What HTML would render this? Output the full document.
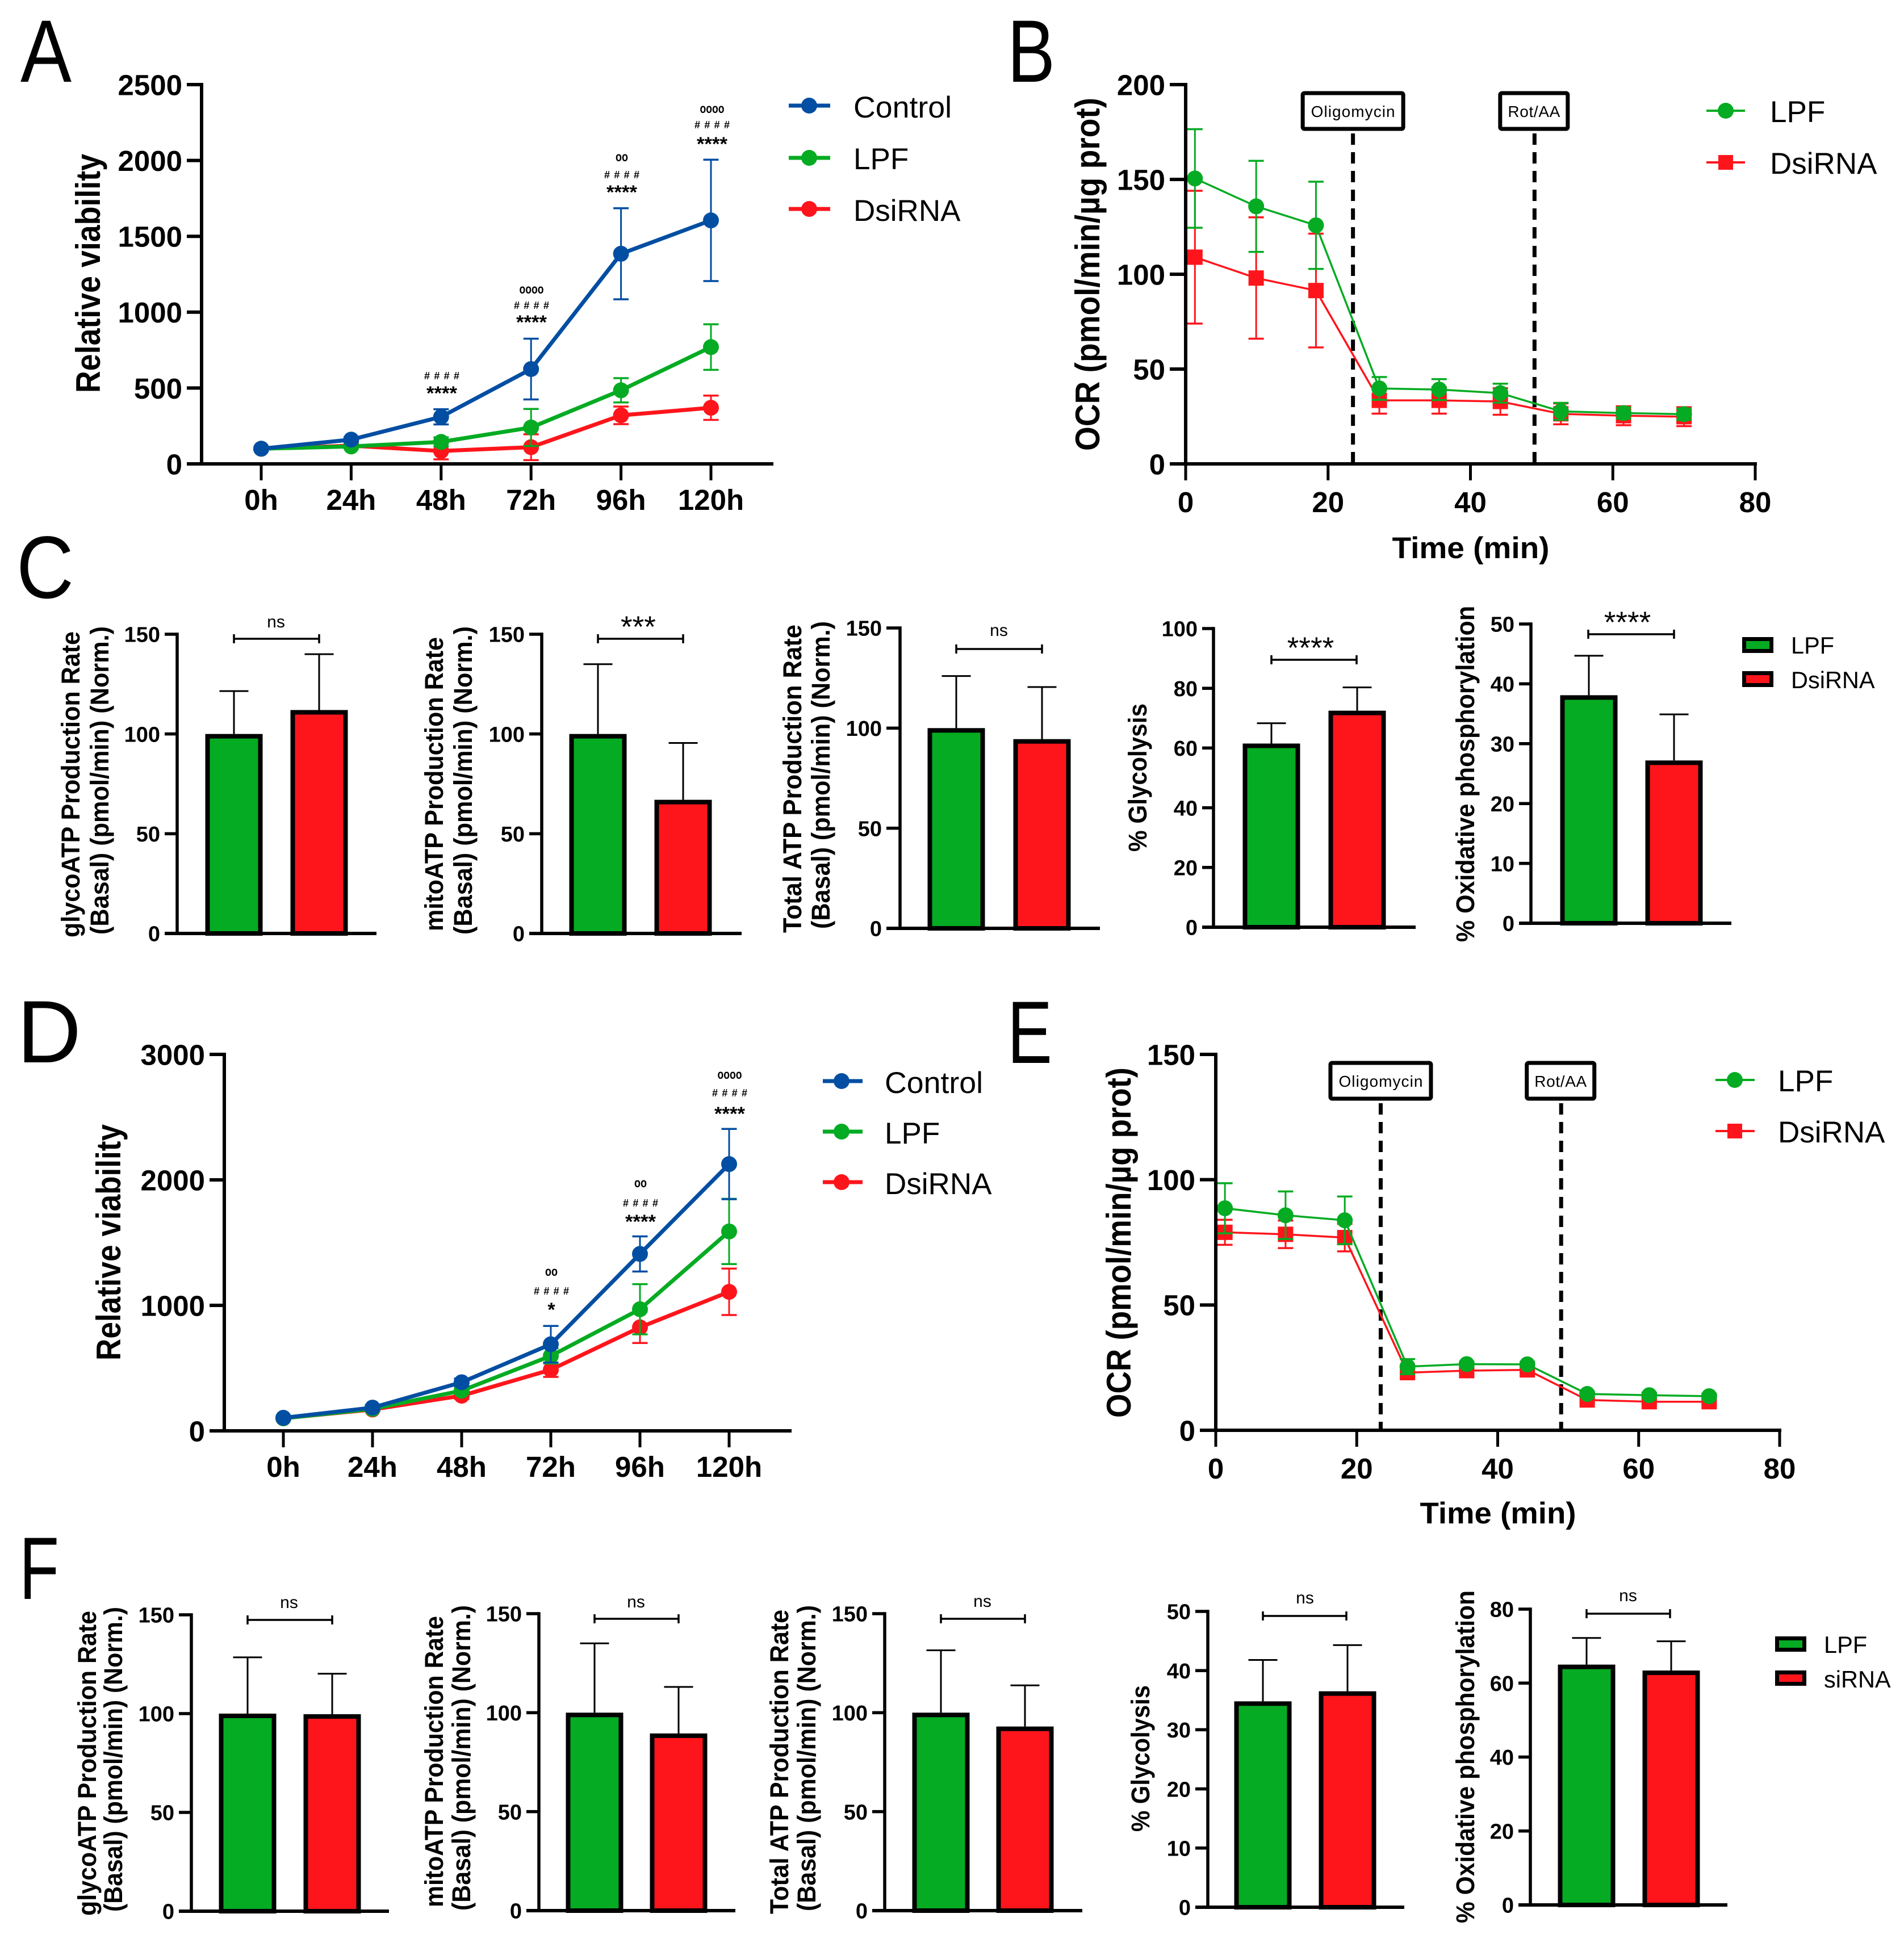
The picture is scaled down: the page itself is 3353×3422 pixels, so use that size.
<!DOCTYPE html>
<html lang="en">
<head>
<meta charset="utf-8">
<title>Viability, OCR and ATP production panels</title>
<style>
html,body{margin:0;padding:0;background:#fff;}
svg{display:block;font-family:"Liberation Sans",Arial,sans-serif;}
text{fill:#000;}
.b{font-weight:bold;}
.lg{font-size:53px;}
.lg2{font-size:41.5px;}
.ylab{font-weight:bold;font-size:60px;}
.ylab2{font-weight:bold;font-size:45px;}
.xt{font-weight:bold;font-size:53px;text-anchor:middle;}
.letter{font-size:156px;}
.o{font-weight:bold;font-size:23px;text-anchor:middle;}
.h{font-size:18px;font-weight:bold;text-anchor:middle;}
.s{font-weight:bold;font-size:34px;text-anchor:middle;}
</style>
</head>
<body>
<svg id="figure" xmlns="http://www.w3.org/2000/svg" width="3353" height="3422" viewBox="0 0 3353 3422">
<rect width="3353" height="3422" fill="#fff"/>

<!-- panel letters -->
<text class="letter" x="36" y="144" textLength="90" lengthAdjust="spacingAndGlyphs">A</text>
<text class="letter" x="1774" y="144" textLength="84" lengthAdjust="spacingAndGlyphs">B</text>
<text class="letter" x="29" y="1053" textLength="101" lengthAdjust="spacingAndGlyphs">C</text>
<text class="letter" x="30" y="1871" textLength="113" lengthAdjust="spacingAndGlyphs">D</text>
<text class="letter" x="1774" y="1872" textLength="79" lengthAdjust="spacingAndGlyphs">E</text>
<text class="letter" x="34" y="2816" textLength="70" lengthAdjust="spacingAndGlyphs">F</text>

<!-- axis titles -->
<text class="ylab" transform="translate(176,692) rotate(-90)" textLength="421" lengthAdjust="spacingAndGlyphs">Relative viability</text>
<text class="ylab" transform="translate(1936,794) rotate(-90)" textLength="622" lengthAdjust="spacingAndGlyphs">OCR (pmol/min/µg prot)</text>
<text class="xt" x="2590" y="983" textLength="277" lengthAdjust="spacingAndGlyphs">Time (min)</text>
<text class="ylab" transform="translate(212,2396) rotate(-90)" textLength="416" lengthAdjust="spacingAndGlyphs">Relative viability</text>
<text class="ylab" transform="translate(1991,2497) rotate(-90)" textLength="617" lengthAdjust="spacingAndGlyphs">OCR (pmol/min/µg prot)</text>
<text class="xt" x="2638" y="2683" textLength="275" lengthAdjust="spacingAndGlyphs">Time (min)</text>

<text class="ylab2" transform="translate(140,1651) rotate(-90)" textLength="539" lengthAdjust="spacingAndGlyphs">glycoATP Production Rate</text>
<text class="ylab2" transform="translate(191,1646) rotate(-90)" textLength="543" lengthAdjust="spacingAndGlyphs">(Basal) (pmol/min) (Norm.)</text>
<text class="ylab2" transform="translate(780,1640) rotate(-90)" textLength="518" lengthAdjust="spacingAndGlyphs">mitoATP Production Rate</text>
<text class="ylab2" transform="translate(831,1646) rotate(-90)" textLength="543" lengthAdjust="spacingAndGlyphs">(Basal) (pmol/min) (Norm.)</text>
<text class="ylab2" transform="translate(1411,1643) rotate(-90)" textLength="543" lengthAdjust="spacingAndGlyphs">Total ATP Production Rate</text>
<text class="ylab2" transform="translate(1461,1636) rotate(-90)" textLength="542" lengthAdjust="spacingAndGlyphs">(Basal) (pmol/min) (Norm.)</text>
<text class="ylab2" transform="translate(2019,1500) rotate(-90)" textLength="261" lengthAdjust="spacingAndGlyphs">% Glycolysis</text>
<text class="ylab2" transform="translate(2596,1659) rotate(-90)" textLength="592" lengthAdjust="spacingAndGlyphs">% Oxidative phosphorylation</text>

<text class="ylab2" transform="translate(169,3374) rotate(-90)" textLength="537" lengthAdjust="spacingAndGlyphs">glycoATP Production Rate</text>
<text class="ylab2" transform="translate(215,3367) rotate(-90)" textLength="537" lengthAdjust="spacingAndGlyphs">(Basal) (pmol/min) (Norm.)</text>
<text class="ylab2" transform="translate(780,3359) rotate(-90)" textLength="513" lengthAdjust="spacingAndGlyphs">mitoATP Production Rate</text>
<text class="ylab2" transform="translate(828,3365) rotate(-90)" textLength="538" lengthAdjust="spacingAndGlyphs">(Basal) (pmol/min) (Norm.)</text>
<text class="ylab2" transform="translate(1388,3371) rotate(-90)" textLength="536" lengthAdjust="spacingAndGlyphs">Total ATP Production Rate</text>
<text class="ylab2" transform="translate(1436,3366) rotate(-90)" textLength="539" lengthAdjust="spacingAndGlyphs">(Basal) (pmol/min) (Norm.)</text>
<text class="ylab2" transform="translate(2024,3226) rotate(-90)" textLength="258" lengthAdjust="spacingAndGlyphs">% Glycolysis</text>
<text class="ylab2" transform="translate(2596,3387) rotate(-90)" textLength="586" lengthAdjust="spacingAndGlyphs">% Oxidative phosphorylation</text>

<!-- significance marks panel A -->
<g>
<text class="h" x="778" y="668" textLength="62">####</text>
<text class="s" x="778" y="704" textLength="54" lengthAdjust="spacingAndGlyphs">****</text>
<text class="o" x="936" y="517" textLength="43" lengthAdjust="spacingAndGlyphs">oooo</text>
<text class="h" x="936" y="544" textLength="62">####</text>
<text class="s" x="936" y="579" textLength="54" lengthAdjust="spacingAndGlyphs">****</text>
<text class="o" x="1095" y="284" textLength="22" lengthAdjust="spacingAndGlyphs">oo</text>
<text class="h" x="1095" y="314" textLength="62">####</text>
<text class="s" x="1095" y="350" textLength="54" lengthAdjust="spacingAndGlyphs">****</text>
<text class="o" x="1254" y="199" textLength="43" lengthAdjust="spacingAndGlyphs">oooo</text>
<text class="h" x="1254" y="226" textLength="62">####</text>
<text class="s" x="1254" y="265" textLength="54" lengthAdjust="spacingAndGlyphs">****</text>
</g>
<!-- significance marks panel D -->
<g>
<text class="o" x="971" y="2247" textLength="22" lengthAdjust="spacingAndGlyphs">oo</text>
<text class="h" x="971" y="2280" textLength="62">####</text>
<text class="s" x="971" y="2318">*</text>
<text class="o" x="1128" y="2091" textLength="22" lengthAdjust="spacingAndGlyphs">oo</text>
<text class="h" x="1128" y="2125" textLength="62">####</text>
<text class="s" x="1128" y="2163" textLength="54" lengthAdjust="spacingAndGlyphs">****</text>
<text class="o" x="1285" y="1900" textLength="43" lengthAdjust="spacingAndGlyphs">oooo</text>
<text class="h" x="1285" y="1931" textLength="62">####</text>
<text class="s" x="1285" y="1973" textLength="54" lengthAdjust="spacingAndGlyphs">****</text>
</g>

<!-- legends -->
<g>
<g><line x1="1389" x2="1462" y1="186" y2="186" stroke="#024ea2" stroke-width="7"/><circle cx="1425" cy="186" r="14" fill="#024ea2"/><text class="lg" x="1503" y="207" textLength="173" lengthAdjust="spacingAndGlyphs">Control</text></g>
<g><line x1="1389" x2="1462" y1="278" y2="278" stroke="#05ab22" stroke-width="7"/><circle cx="1425" cy="278" r="14" fill="#05ab22"/><text class="lg" x="1503" y="298">LPF</text></g>
<g><line x1="1389" x2="1462" y1="368" y2="368" stroke="#fe151c" stroke-width="7"/><circle cx="1425" cy="368" r="14" fill="#fe151c"/><text class="lg" x="1503" y="389">DsiRNA</text></g>
</g>
<g>
<g><line x1="3005" x2="3073" y1="195" y2="195" stroke="#05ab22" stroke-width="4"/><circle cx="3039" cy="195" r="14" fill="#05ab22"/><text class="lg" x="3117" y="215">LPF</text></g>
<g><line x1="3005" x2="3073" y1="286" y2="286" stroke="#fe151c" stroke-width="4"/><rect x="3026" y="273" width="26" height="26" fill="#fe151c"/><text class="lg" x="3117" y="306">DsiRNA</text></g>
</g>
<g>
<g><rect x="3068" y="1122" width="55" height="28" fill="#000"/><rect x="3075" y="1129" width="41" height="14" fill="#05ab22"/><text class="lg2" x="3154" y="1151">LPF</text></g>
<g><rect x="3068" y="1182" width="55" height="28" fill="#000"/><rect x="3075" y="1189" width="41" height="14" fill="#fe151c"/><text class="lg2" x="3154" y="1212">DsiRNA</text></g>
</g>
<g>
<g><line x1="1449" x2="1519" y1="1904" y2="1904" stroke="#024ea2" stroke-width="7"/><circle cx="1482" cy="1904" r="14" fill="#024ea2"/><text class="lg" x="1558" y="1925" textLength="173" lengthAdjust="spacingAndGlyphs">Control</text></g>
<g><line x1="1449" x2="1519" y1="1993" y2="1993" stroke="#05ab22" stroke-width="7"/><circle cx="1482" cy="1993" r="14" fill="#05ab22"/><text class="lg" x="1558" y="2014">LPF</text></g>
<g><line x1="1449" x2="1519" y1="2082" y2="2082" stroke="#fe151c" stroke-width="7"/><circle cx="1482" cy="2082" r="14" fill="#fe151c"/><text class="lg" x="1558" y="2103">DsiRNA</text></g>
</g>
<g>
<g><line x1="3021" x2="3090" y1="1902" y2="1902" stroke="#05ab22" stroke-width="4"/><circle cx="3055" cy="1902" r="14" fill="#05ab22"/><text class="lg" x="3131" y="1922">LPF</text></g>
<g><line x1="3021" x2="3090" y1="1992" y2="1992" stroke="#fe151c" stroke-width="4"/><rect x="3042" y="1979" width="26" height="26" fill="#fe151c"/><text class="lg" x="3131" y="2012">DsiRNA</text></g>
</g>
<g>
<g><rect x="3126" y="2882" width="55" height="27" fill="#000"/><rect x="3133" y="2889" width="41" height="13" fill="#05ab22"/><text class="lg2" x="3212" y="2911">LPF</text></g>
<g><rect x="3126" y="2942" width="55" height="27" fill="#000"/><rect x="3133" y="2949" width="41" height="13" fill="#fe151c"/><text class="lg2" x="3212" y="2972">siRNA</text></g>
</g>

<g id="marks"></g>
</svg>

<script>
// ---------- Data ----------
const BLUE = '#024ea2';
const GREEN = '#05ab22';
const RED = '#fe151c';

const timeCategories = ['0h', '24h', '48h', '72h', '96h', '120h'];

const aTicks = [0, 500, 1000, 1500, 2000, 2500];
const aControl = [100, 160, 310, 625, 1385, 1605];
const aControlErr = [10, 15, 50, 200, 300, 400];
const aLpf = [100, 115, 145, 240, 485, 770];
const aLpfErr = [8, 12, 30, 122, 80, 150];
const aDsi = [100, 120, 85, 110, 320, 370];
const aDsiErr = [8, 12, 55, 85, 58, 80];

const dTicks = [0, 1000, 2000, 3000];
const dControl = [104, 185, 387, 690, 1410, 2126];
const dControlErr = [10, 20, 30, 146, 140, 280];
const dLpf = [100, 175, 320, 597, 969, 1589];
const dLpfErr = [10, 15, 25, 60, 200, 260];
const dDsi = [100, 170, 280, 487, 825, 1108];
const dDsiErr = [10, 15, 25, 57, 125, 185];

const ocrTimes = [1.3, 9.9, 18.3, 27.2, 35.6, 44.2, 52.7, 61.5, 70];
const ocrXTicks = [0, 20, 40, 60, 80];

const bTicks = [0, 50, 100, 150, 200];
const bLpf = [150.5, 135.8, 125.8, 39.8, 39.2, 37.3, 27.7, 26.8, 26.2];
const bLpfErr = [26, 24, 23, 6, 5.5, 5, 4.5, 3, 3];
const bDsi = [109, 98, 91.4, 33.5, 33.5, 32.9, 26.4, 25.4, 24.9];
const bDsiErr = [35, 32, 30, 7, 7, 7, 5.5, 5, 5];
const bInjections = [23.5, 49];

const eTicks = [0, 50, 100, 150];
const eLpf = [88.6, 85.8, 83.8, 25.4, 26.4, 26.3, 14.5, 14, 13.6];
const eLpfErr = [10, 9.5, 9.5, 3, 1, 1, 1, 1, 1];
const eDsi = [79, 78.2, 76.9, 23, 23.8, 24.1, 12.1, 11.4, 11.4];
const eDsiErr = [5, 5.5, 5.5, 1.5, 1, 1, 1, 1, 1];
const eInjections = [23.4, 49];

const injectionNames = ['Oligomycin', 'Rot/AA'];

const ticks150 = [0, 50, 100, 150];
const ticks100 = [0, 20, 40, 60, 80, 100];
const ticks50 = [0, 10, 20, 30, 40, 50];
const ticks80 = [0, 20, 40, 60, 80];

const c1Values = [100, 112];
const c1Errors = [21.5, 28];
const c2Values = [100, 67];
const c2Errors = [35, 28.5];
const c3Values = [100, 94.5];
const c3Errors = [26, 26];
const c4Values = [61.5, 72.5];
const c4Errors = [6.8, 7.8];
const c5Values = [38.1, 27.2];
const c5Errors = [6.6, 7.7];

const f1Values = [100, 99.7];
const f1Errors = [28.5, 20.5];
const f2Values = [100, 89.5];
const f2Errors = [35, 23.5];
const f3Values = [100, 93];
const f3Errors = [31.5, 20.8];
const f4Values = [34.8, 36.5];
const f4Errors = [7, 7.8];
const f5Values = [65, 63.4];
const f5Errors = [7.2, 7.9];

// ---------- Helpers ----------
const NS = 'http://www.w3.org/2000/svg';
const root = document.getElementById('marks');
function node(parent, tag, attrs, text) {
  const n = document.createElementNS(NS, tag);
  for (const k in attrs) n.setAttribute(k, attrs[k]);
  if (text !== undefined) n.textContent = text;
  parent.appendChild(n);
  return n;
}
function scaleY(l, v) { return l.yBase - (v / l.yMax) * (l.yBase - l.yTop); }
function scaleX(l, v) { return l.x0 + (v / l.xMax) * (l.x1 - l.x0); }
function scaleCat(l, i) { return l.catStart + i * l.catStep; }

function drawYAxis(g, l, ticks, fontSize, sw) {
  const axis = node(g, 'line', {x1: l.x0, x2: l.x0, y1: l.yTop - sw / 2, y2: l.yBase, stroke: '#000', 'stroke-width': sw});
  
  
  ticks.forEach(function (t) {
    const y = scaleY(l, t);
    const tick = node(g, 'line', {x1: l.tickLeft, x2: l.x0, y1: y, y2: y, stroke: '#000', 'stroke-width': sw});
    
    
    const lab = node(g, 'text', {x: l.tickLeft - 8, y: y + fontSize * 0.36, 'text-anchor': 'end', 'font-size': fontSize, 'font-weight': 'bold'}, String(t));
    
    
  });
}

function drawSeries(g, l, xFn, s) {
  const sg = node(g, 'g', {});
  
  
  s.values.forEach(function (v, i) {
    const x = xFn(i);
    const yHi = scaleY(l, v + s.errors[i]);
    const yLo = scaleY(l, Math.max(0, v - s.errors[i]));
    const bar = node(sg, 'line', {x1: x, x2: x, y1: yHi, y2: yLo, stroke: s.color, 'stroke-width': 3});
    
    
    const capHi = node(sg, 'line', {x1: x - 13.5, x2: x + 13.5, y1: yHi, y2: yHi, stroke: s.color, 'stroke-width': 3.5});
    
    
    const capLo = node(sg, 'line', {x1: x - 13.5, x2: x + 13.5, y1: yLo, y2: yLo, stroke: s.color, 'stroke-width': 3.5});
    
    
  });
  const pts = s.values.map(function (v, i) { return xFn(i) + ',' + scaleY(l, v); }).join(' ');
  const line = node(sg, 'polyline', {points: pts, fill: 'none', stroke: s.color, 'stroke-width': s.lineWidth, 'stroke-linejoin': 'round'});
  
  
  s.values.forEach(function (v, i) {
    const x = xFn(i), y = scaleY(l, v);
    let m;
    if (s.marker === 'square') m = node(sg, 'rect', {x: x - 13.5, y: y - 13.5, width: 27, height: 27, fill: s.color});
    else m = node(sg, 'circle', {cx: x, cy: y, r: 14, fill: s.color});
    
    
  });
}

function drawViability(name, l, ticks, seriesList) {
  const g = node(root, 'g', {});
  
  
  seriesList.forEach(function (s) {
    drawSeries(g, l, function (i) { return scaleCat(l, i); }, s);
  });
  drawYAxis(g, l, ticks, 51, 6);
  const base = node(g, 'line', {x1: l.tickLeft, x2: l.xEnd, y1: l.yBase, y2: l.yBase, stroke: '#000', 'stroke-width': 6});
  
  
  timeCategories.forEach(function (c, i) {
    const x = scaleCat(l, i);
    const tick = node(g, 'line', {x1: x, x2: x, y1: l.yBase, y2: l.yBase + 29, stroke: '#000', 'stroke-width': 5});
    
    
    const lab = node(g, 'text', {x: x, y: l.yBase + 81, 'text-anchor': 'middle', 'font-size': 51, 'font-weight': 'bold'}, c);
    
    
  });
}

function drawOcr(name, l, ticks, injections, seriesList) {
  const g = node(root, 'g', {});
  
  
  injections.forEach(function (t, i) {
    const x = scaleX(l, t);
    const dash = node(g, 'line', {x1: x, x2: x, y1: l.boxBottom + 5, y2: l.yBase, stroke: '#000', 'stroke-width': 7, 'stroke-dasharray': '20 13'});
    
    
    const w = i === 0 ? 177 : 119;
    const box = node(g, 'rect', {x: x - w / 2 - (i === 0 ? 0 : 1), y: l.boxBottom - 66, width: w, height: 63, rx: 3, fill: '#fff', stroke: '#000', 'stroke-width': 7});
    
    
    const lab = node(g, 'text', {x: x - (i === 0 ? 0 : 1), y: l.boxBottom - 24, 'text-anchor': 'middle', 'font-size': 28, textLength: i === 0 ? 148 : 92}, injectionNames[i]);
    
    
  });
  seriesList.forEach(function (s) {
    drawSeries(g, l, function (i) { return scaleX(l, ocrTimes[i]); }, s);
  });
  drawYAxis(g, l, ticks, 51, 6);
  const base = node(g, 'line', {x1: l.tickLeft, x2: l.x1 + 3, y1: l.yBase, y2: l.yBase, stroke: '#000', 'stroke-width': 6});
  
  
  ocrXTicks.forEach(function (t) {
    const x = scaleX(l, t);
    const tick = node(g, 'line', {x1: x, x2: x, y1: l.yBase, y2: l.yBase + 29, stroke: '#000', 'stroke-width': 5});
    
    
    const lab = node(g, 'text', {x: x, y: l.yBase + 85, 'text-anchor': 'middle', 'font-size': 51, 'font-weight': 'bold'}, String(t));
    
    
  });
}

function drawBars(name, l, ticks, values, errors, sig) {
  const g = node(root, 'g', {});
  
  
  const colors = [GREEN, RED];
  const barW = 101;
  values.forEach(function (v, i) {
    const cx = l.barCenter[i];
    const left = cx - barW / 2;
    const yTop = scaleY(l, v);
    const yErr = scaleY(l, v + errors[i]);
    const err = node(g, 'line', {x1: cx, x2: cx, y1: yErr, y2: yTop, stroke: '#000', 'stroke-width': 3});
    
    
    const cap = node(g, 'line', {x1: cx - 25.5, x2: cx + 25.5, y1: yErr, y2: yErr, stroke: '#000', 'stroke-width': 3});
    
    
    const bar = node(g, 'rect', {x: left + 4, y: yTop + 4, width: barW - 8, height: l.yBase - yTop - 4, fill: colors[i], stroke: '#000', 'stroke-width': 8});
    
    
  });
  drawYAxis(g, l, ticks, 38, 5.5);
  const base = node(g, 'line', {x1: l.tickLeft, x2: l.xEnd, y1: l.yBase, y2: l.yBase, stroke: '#000', 'stroke-width': 6});
  
  
  const br = node(g, 'path', {d: 'M' + l.brX0 + ' ' + (l.brY - 8) + 'V' + (l.brY + 8) + 'M' + l.brX0 + ' ' + l.brY + 'H' + l.brX1 + 'M' + l.brX1 + ' ' + (l.brY - 8) + 'V' + (l.brY + 8), fill: 'none', stroke: '#000', 'stroke-width': 3.5});
  
  
  const isStars = sig !== 'ns';
  const lab = node(g, 'text', {x: l.sigX, y: l.sigY, 'text-anchor': 'middle', 'font-size': isStars ? 53 : 30}, sig);
  
  
}

// ---------- Draw ----------
drawViability('panel-a-viability-chart',
  {x0: 355, yTop: 149, yBase: 817, yMax: 2500, tickLeft: 329, xEnd: 1362, catStart: 460, catStep: 158.4},
  aTicks,
  [{name: 'dsirna', values: aDsi, errors: aDsiErr, color: RED, marker: 'circle', lineWidth: 7},
   {name: 'lpf', values: aLpf, errors: aLpfErr, color: GREEN, marker: 'circle', lineWidth: 7},
   {name: 'control', values: aControl, errors: aControlErr, color: BLUE, marker: 'circle', lineWidth: 7}]);

drawViability('panel-d-viability-chart',
  {x0: 395, yTop: 1857, yBase: 2520, yMax: 3000, tickLeft: 369, xEnd: 1394, catStart: 499, catStep: 157},
  dTicks,
  [{name: 'dsirna', values: dDsi, errors: dDsiErr, color: RED, marker: 'circle', lineWidth: 7},
   {name: 'lpf', values: dLpf, errors: dLpfErr, color: GREEN, marker: 'circle', lineWidth: 7},
   {name: 'control', values: dControl, errors: dControlErr, color: BLUE, marker: 'circle', lineWidth: 7}]);

drawOcr('panel-b-ocr-chart',
  {x0: 2088, x1: 3091, xMax: 80, yTop: 149, yBase: 817, yMax: 200, tickLeft: 2060, boxBottom: 230},
  bTicks, bInjections,
  [{name: 'dsirna', values: bDsi, errors: bDsiErr, color: RED, marker: 'square', lineWidth: 3.5},
   {name: 'lpf', values: bLpf, errors: bLpfErr, color: GREEN, marker: 'circle', lineWidth: 3.5}]);

drawOcr('panel-e-ocr-chart',
  {x0: 2141, x1: 3134, xMax: 80, yTop: 1857, yBase: 2519, yMax: 150, tickLeft: 2113, boxBottom: 1938},
  eTicks, eInjections,
  [{name: 'dsirna', values: eDsi, errors: eDsiErr, color: RED, marker: 'square', lineWidth: 3.5},
   {name: 'lpf', values: eLpf, errors: eLpfErr, color: GREEN, marker: 'circle', lineWidth: 3.5}]);

drawBars('panel-c1-glycoatp-chart',
  {x0: 312, yTop: 1117, yBase: 1644, yMax: 150, tickLeft: 290, xEnd: 663, barCenter: [412, 562], brX0: 412, brX1: 562, brY: 1125, sigX: 486, sigY: 1105},
  ticks150, c1Values, c1Errors, 'ns');
drawBars('panel-c2-mitoatp-chart',
  {x0: 954, yTop: 1117, yBase: 1644, yMax: 150, tickLeft: 932, xEnd: 1306, barCenter: [1053, 1203], brX0: 1053, brX1: 1203, brY: 1125, sigX: 1124, sigY: 1122},
  ticks150, c2Values, c2Errors, '***');
drawBars('panel-c3-totalatp-chart',
  {x0: 1585, yTop: 1106, yBase: 1635, yMax: 150, tickLeft: 1561, xEnd: 1937, barCenter: [1684, 1835], brX0: 1684, brX1: 1835, brY: 1143, sigX: 1759, sigY: 1120},
  ticks150, c3Values, c3Errors, 'ns');
drawBars('panel-c4-glycolysis-chart',
  {x0: 2137, yTop: 1107, yBase: 1633, yMax: 100, tickLeft: 2117, xEnd: 2493, barCenter: [2239, 2390], brX0: 2239, brX1: 2389, brY: 1162, sigX: 2308, sigY: 1159},
  ticks100, c4Values, c4Errors, '****');
drawBars('panel-c5-oxphos-chart',
  {x0: 2696, yTop: 1099, yBase: 1626, yMax: 50, tickLeft: 2675, xEnd: 3049, barCenter: [2798, 2948], brX0: 2797, brX1: 2948, brY: 1117, sigX: 2866, sigY: 1114},
  ticks50, c5Values, c5Errors, '****');

drawBars('panel-f1-glycoatp-chart',
  {x0: 337, yTop: 2844, yBase: 3366, yMax: 150, tickLeft: 315, xEnd: 685, barCenter: [436, 585], brX0: 436, brX1: 585, brY: 2853, sigX: 509, sigY: 2832},
  ticks150, f1Values, f1Errors, 'ns');
drawBars('panel-f2-mitoatp-chart',
  {x0: 949, yTop: 2842, yBase: 3365, yMax: 150, tickLeft: 927, xEnd: 1295, barCenter: [1047, 1195], brX0: 1047, brX1: 1195, brY: 2851, sigX: 1120, sigY: 2831},
  ticks150, f2Values, f2Errors, 'ns');
drawBars('panel-f3-totalatp-chart',
  {x0: 1558, yTop: 2842, yBase: 3365, yMax: 150, tickLeft: 1536, xEnd: 1906, barCenter: [1657, 1805], brX0: 1657, brX1: 1805, brY: 2851, sigX: 1730, sigY: 2830},
  ticks150, f3Values, f3Errors, 'ns');
drawBars('panel-f4-glycolysis-chart',
  {x0: 2127, yTop: 2838, yBase: 3359, yMax: 50, tickLeft: 2105, xEnd: 2473, barCenter: [2224, 2373], brX0: 2224, brX1: 2371, brY: 2846, sigX: 2298, sigY: 2824},
  ticks50, f4Values, f4Errors, 'ns');
drawBars('panel-f5-oxphos-chart',
  {x0: 2695, yTop: 2834, yBase: 3355, yMax: 80, tickLeft: 2674, xEnd: 3042, barCenter: [2794, 2943], brX0: 2794, brX1: 2941, brY: 2842, sigX: 2867, sigY: 2820},
  ticks80, f5Values, f5Errors, 'ns');
</script>
</body>
</html>
